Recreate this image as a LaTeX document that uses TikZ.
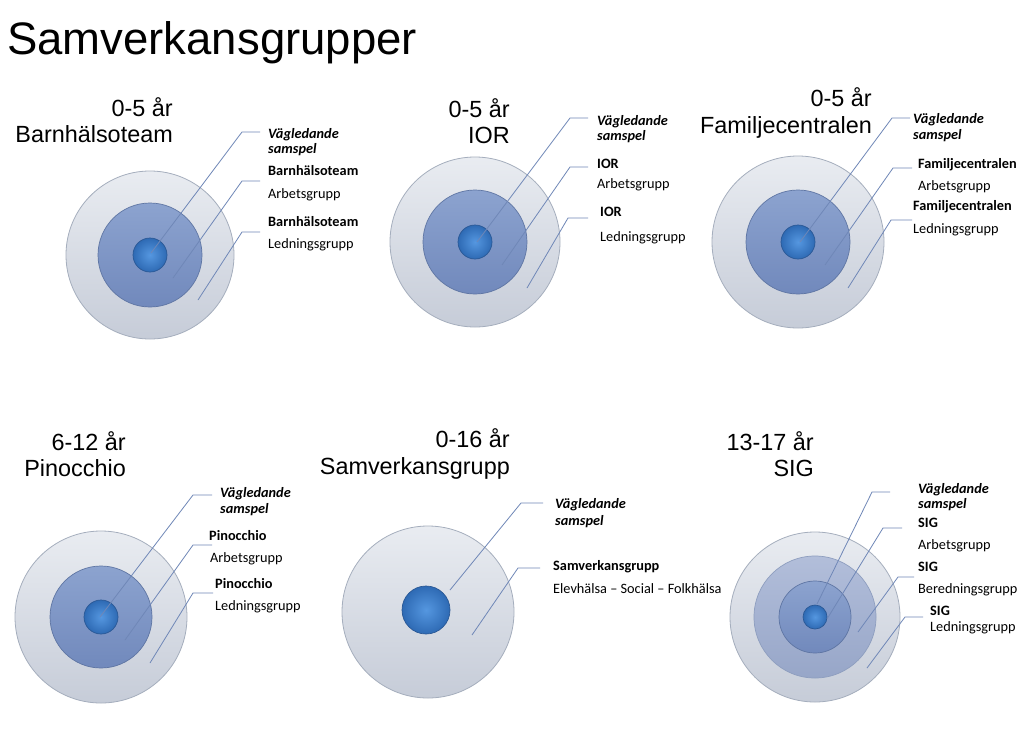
\documentclass[tikz,border=0pt]{standalone}
\usepackage{fontspec}
\setmainfont{Liberation Sans}
\newfontfamily\calfont{Carlito}
\usepackage{xcolor}
\usetikzlibrary{positioning,calc}

\definecolor{ringlight}{HTML}{E9ECF1}
\definecolor{ringlightdk}{HTML}{C6CCD8}
\definecolor{ringedge}{HTML}{A5AEBD}
\definecolor{ringsoft}{HTML}{B2BEDA}
\definecolor{ringsoftdk}{HTML}{97A6C8}
\definecolor{ringmid}{HTML}{8CA3CF}
\definecolor{ringmiddk}{HTML}{7189BC}
\definecolor{midedge}{HTML}{5E75A3}
\definecolor{corelight}{HTML}{5597E0}
\definecolor{coredark}{HTML}{2E6AB4}
\definecolor{coreedge}{HTML}{2A5895}
\definecolor{leadline}{HTML}{6F87B7}

\begin{document}
\begin{tikzpicture}[x=1pt,y=-1pt,
    outring/.style={circle, draw=ringedge, line width=0.8pt, top color=ringlight, bottom color=ringlightdk, inner sep=0pt, minimum size=#1},
    softring/.style={circle, draw=midedge!70, line width=0.7pt, top color=ringsoft, bottom color=ringsoftdk, inner sep=0pt, minimum size=#1},
    midring/.style={circle, draw=midedge, line width=0.7pt, top color=ringmid, bottom color=ringmiddk, inner sep=0pt, minimum size=#1},
    core/.style={circle, draw=coreedge, line width=0.7pt, inner color=corelight, outer color=coredark, inner sep=0pt, minimum size=#1},
    leader/.style={draw=leadline, line width=0.8pt},
    head/.style={anchor=east, align=right, inner sep=0pt, font=\fontsize{23.4}{26.5}\selectfont},
    lab/.style={anchor=west, inner sep=0pt, text height=10pt, text depth=3pt, font=\calfont\fontsize{14.3}{16}\selectfont},
    labb/.style={lab, font=\calfont\bfseries\fontsize{14.3}{16}\selectfont},
    labv/.style={lab, font=\calfont\bfseries\itshape\fontsize{14.3}{16}\selectfont}]

    \fill[white] (0,0) rectangle (1024,739);
    \useasboundingbox (0,0) rectangle (1024,739);

    % Title
    \node[anchor=west, inner sep=0pt, font=\fontsize{45.5}{50}\selectfont] (main) at (7,43) {Samverkansgrupper};

    % 0-5 år Barnhälsoteam
    \node[outring=168] (g1-out) at (150,255) {};
    \node[midring=104] (g1-mid) at (150,255) {};
    \node[core=34] (g1-core) at (150,255) {};
    \node[head] (g1-title) at (173,120) {0-5 år\\Barnhälsoteam};
    \coordinate (g1-sa) at (151,253); \coordinate (g1-ta) at (260,132);
    \coordinate (g1-sb) at (173,278); \coordinate (g1-tb) at (260,181);
    \coordinate (g1-sc) at (198,300); \coordinate (g1-tc) at (260,232);
    \draw[leader] (g1-sa) -- ([xshift=-18]g1-ta) -- (g1-ta);
    \draw[leader] (g1-sb) -- ([xshift=-18]g1-tb) -- (g1-tb);
    \draw[leader] (g1-sc) -- ([xshift=-18]g1-tc) -- (g1-tc);
    \node[labv] (g1-la) at (268,135) {Vägledande};
    \node[labv] (g1-la2) at (268,150) {samspel};
    \node[labb] (g1-lb) at (268,172) {Barnhälsoteam};
    \node[lab] (g1-lb2) at (268,195) {Arbetsgrupp};
    \node[labb] (g1-lc) at (268,223) {Barnhälsoteam};
    \node[lab] (g1-lc2) at (268,245) {Ledningsgrupp};

    % 0-5 år IOR
    \node[outring=170] (g2-out) at (475,242) {};
    \node[midring=104] (g2-mid) at (475,242) {};
    \node[core=34] (g2-core) at (475,242) {};
    \node[head] (g2-title) at (510,121) {0-5 år\\IOR};
    \coordinate (g2-sa) at (477,242); \coordinate (g2-ta) at (588,118);
    \coordinate (g2-sb) at (502,265); \coordinate (g2-tb) at (588,167);
    \coordinate (g2-sc) at (527,288); \coordinate (g2-tc) at (588,218);
    \draw[leader] (g2-sa) -- ([xshift=-18]g2-ta) -- (g2-ta);
    \draw[leader] (g2-sb) -- ([xshift=-18]g2-tb) -- (g2-tb);
    \draw[leader] (g2-sc) -- ([xshift=-20]g2-tc) -- (g2-tc);
    \node[labv] (g2-la) at (597,122) {Vägledande};
    \node[labv] (g2-la2) at (597,137) {samspel};
    \node[labb] (g2-lb) at (597,165) {IOR};
    \node[lab] (g2-lb2) at (597,185) {Arbetsgrupp};
    \node[labb] (g2-lc) at (600,213) {IOR};
    \node[lab] (g2-lc2) at (600,238) {Ledningsgrupp};

    % 0-5 år Familjecentralen
    \node[outring=172] (g3-out) at (798,242) {};
    \node[midring=104] (g3-mid) at (798,242) {};
    \node[core=34] (g3-core) at (798,242) {};
    \node[head] (g3-title) at (872,113) {0-5 år\\Familjecentralen};
    \coordinate (g3-sa) at (800,242); \coordinate (g3-ta) at (910,118);
    \coordinate (g3-sb) at (825,265); \coordinate (g3-tb) at (912,168);
    \coordinate (g3-sc) at (848,288); \coordinate (g3-tc) at (912,220);
    \draw[leader] (g3-sa) -- ([xshift=-18]g3-ta) -- (g3-ta);
    \draw[leader] (g3-sb) -- ([xshift=-19]g3-tb) -- (g3-tb);
    \draw[leader] (g3-sc) -- ([xshift=-21]g3-tc) -- (g3-tc);
    \node[labv] (g3-la) at (913,120) {Vägledande};
    \node[labv] (g3-la2) at (913,136) {samspel};
    \node[labb] (g3-lb) at (918,165) {Familjecentralen};
    \node[lab] (g3-lb2) at (918,187) {Arbetsgrupp};
    \node[labb] (g3-lc) at (913,207) {Familjecentralen};
    \node[lab] (g3-lc2) at (913,230) {Ledningsgrupp};

    % 6-12 år Pinocchio
    \node[outring=172] (g4-out) at (101,617) {};
    \node[midring=102] (g4-mid) at (101,617) {};
    \node[core=34] (g4-core) at (101,617) {};
    \node[head] (g4-title) at (126,454) {6-12 år\\Pinocchio};
    \coordinate (g4-sa) at (100,617); \coordinate (g4-ta) at (212,495);
    \coordinate (g4-sb) at (125,640); \coordinate (g4-tb) at (212,545);
    \coordinate (g4-sc) at (150,663); \coordinate (g4-tc) at (213,593);
    \draw[leader] (g4-sa) -- ([xshift=-19]g4-ta) -- (g4-ta);
    \draw[leader] (g4-sb) -- ([xshift=-19]g4-tb) -- (g4-tb);
    \draw[leader] (g4-sc) -- ([xshift=-20]g4-tc) -- (g4-tc);
    \node[labv] (g4-la) at (220,494) {Vägledande};
    \node[labv] (g4-la2) at (220,510) {samspel};
    \node[labb] (g4-lb) at (209,537) {Pinocchio};
    \node[lab] (g4-lb2) at (210,559) {Arbetsgrupp};
    \node[labb] (g4-lc) at (215,585) {Pinocchio};
    \node[lab] (g4-lc2) at (215,607) {Ledningsgrupp};

    % 0-16 år Samverkansgrupp
    \node[outring=172] (g5-out) at (428,612) {};
    \node[core=48] (g5-core) at (426,610) {};
    \node[head] (g5-title) at (510,454) {0-16 år\\Samverkansgrupp};
    \coordinate (g5-sa) at (450,590); \coordinate (g5-ta) at (543,503);
    \coordinate (g5-sb) at (472,635); \coordinate (g5-tb) at (540,568);
    \draw[leader] (g5-sa) -- ([xshift=-22]g5-ta) -- (g5-ta);
    \draw[leader] (g5-sb) -- ([xshift=-22]g5-tb) -- (g5-tb);
    \node[labv] (g5-la) at (555,505) {Vägledande};
    \node[labv] (g5-la2) at (555,522) {samspel};
    \node[labb] (g5-lb) at (553,567) {Samverkansgrupp};
    \node[lab] (g5-lb2) at (553,590) {Elevhälsa – Social – Folkhälsa};

    % 13-17 år SIG
    \node[outring=170] (g6-out) at (815,617) {};
    \node[softring=122] (g6-soft) at (815,617) {};
    \node[midring=72] (g6-mid) at (815,617) {};
    \node[core=24] (g6-core) at (815,617) {};
    \node[head] (g6-title) at (814,454) {13-17 år\\SIG};
    \coordinate (g6-sa) at (817,604); \coordinate (g6-ta) at (890,492);
    \coordinate (g6-sb) at (827,619); \coordinate (g6-tb) at (902,528);
    \coordinate (g6-sc) at (858,632); \coordinate (g6-tc) at (914,577);
    \coordinate (g6-sd) at (867,668); \coordinate (g6-td) at (923,617);
    \draw[leader] (g6-sa) -- ([xshift=-18]g6-ta) -- (g6-ta);
    \draw[leader] (g6-sb) -- ([xshift=-19]g6-tb) -- (g6-tb);
    \draw[leader] (g6-sc) -- ([xshift=-16]g6-tc) -- (g6-tc);
    \draw[leader] (g6-sd) -- ([xshift=-18]g6-td) -- (g6-td);
    \node[labv] (g6-la) at (918,490) {Vägledande};
    \node[labv] (g6-la2) at (918,505) {samspel};
    \node[labb] (g6-lb) at (918,524) {SIG};
    \node[lab] (g6-lb2) at (918,546) {Arbetsgrupp};
    \node[labb] (g6-lc) at (918,568) {SIG};
    \node[lab] (g6-lc2) at (918,590) {Beredningsgrupp};
    \node[labb] (g6-ld) at (930,612) {SIG};
    \node[lab] (g6-ld2) at (930,628) {Ledningsgrupp};
\end{tikzpicture}
\end{document}
